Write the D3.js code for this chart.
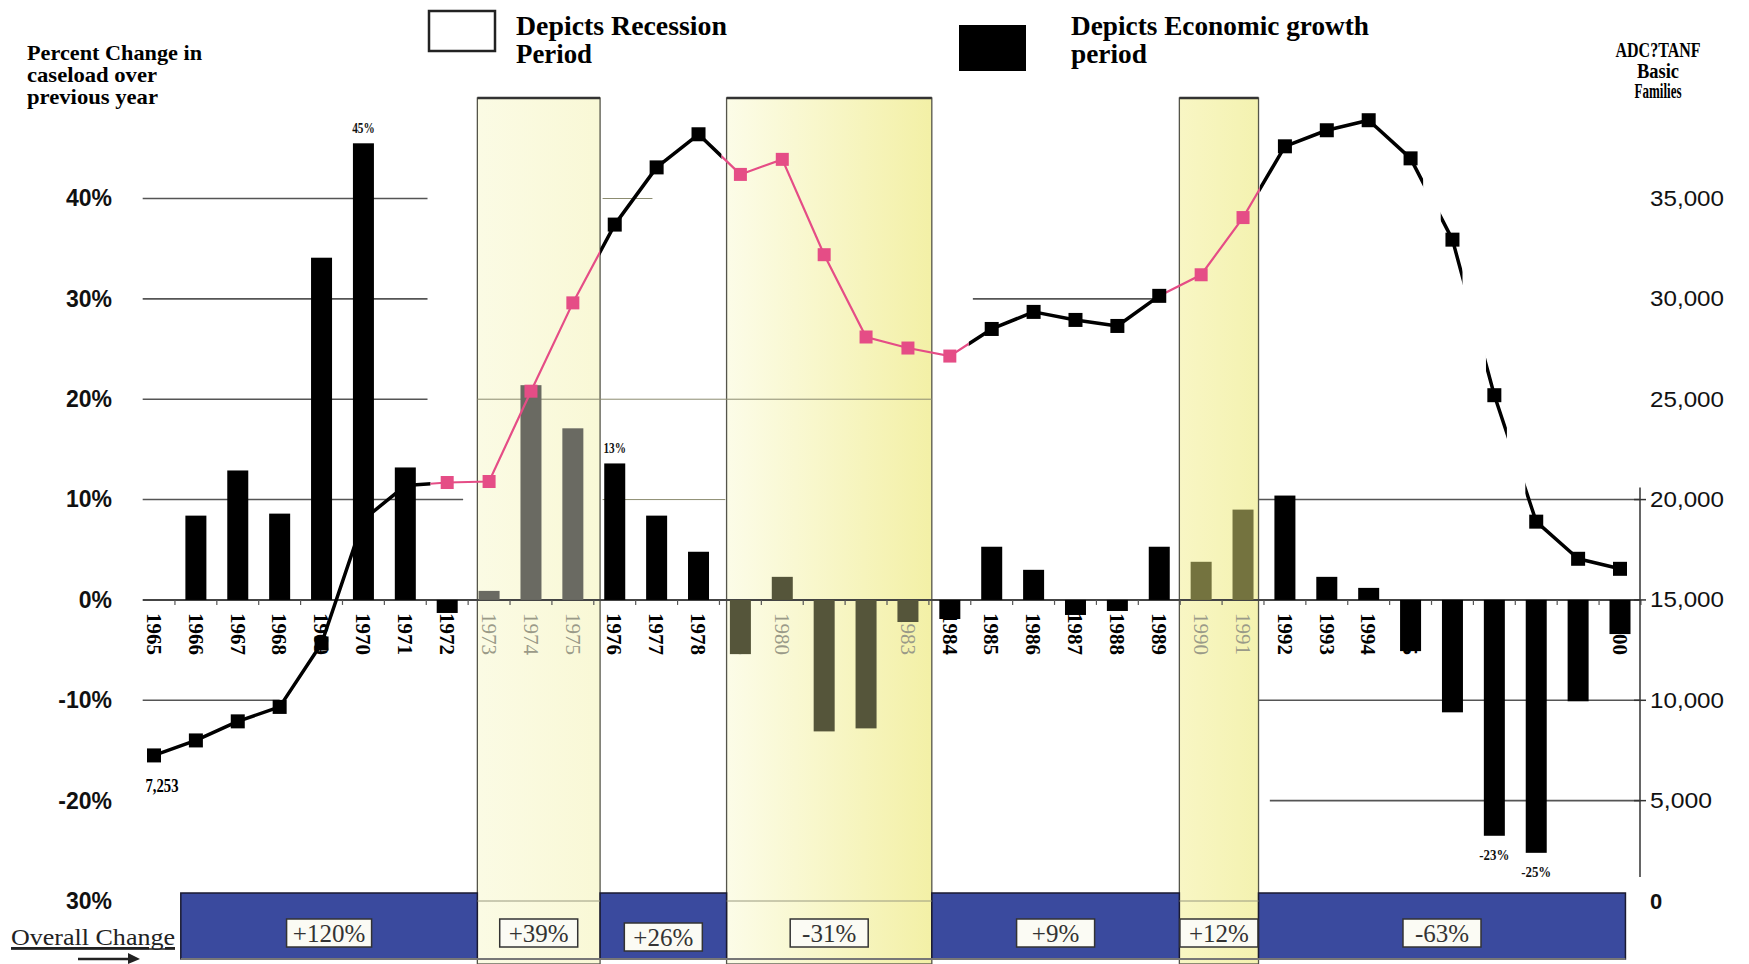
<!DOCTYPE html>
<html><head><meta charset="utf-8">
<script src="https://cdn.jsdelivr.net/npm/d3@7"></script>
<style>body{margin:0;background:#fff} svg{display:block}</style>
</head><body><svg id="c" width="1749" height="964"></svg>
<script>
// ---------------- DATA ----------------
const years = [1965,1966,1967,1968,1969,1970,1971,1972,1973,1974,1975,1976,1977,1978,1979,1980,1981,1982,1983,1984,1985,1986,1987,1988,1989,1990,1991,1992,1993,1994,1995,1996,1997,1998,1999,2000];
const pctChange = [null,8.4,12.9,8.6,34.1,45.5,13.2,-1.3,0.9,21.4,17.1,13.6,8.4,4.8,-5.4,2.3,-13.1,-12.8,-2.2,-1.9,5.3,3.0,-1.5,-1.1,5.3,3.8,9.0,10.4,2.3,1.2,-5.1,-11.2,-23.5,-25.2,-10.1,-3.4];
const caseload = [7253,8000,8950,9670,12830,19000,20700,20850,20900,25400,29800,33700,36550,38200,36200,36950,32200,28100,27550,27150,28500,29350,28950,28650,30150,31200,34050,37600,38400,38900,37000,32950,25200,18900,17050,16550];
const recessionYears = [1973,1974,1975,1979,1980,1981,1982,1983,1990,1991];
const pinkMarkerYears = [1972,1973,1974,1975,1979,1980,1981,1982,1983,1984,1990,1991];
const periodStart = [1965.64,1972.72,1975.65,1978.67,1983.57,1989.48,1991.37];
const periodEnd   = [1972.72,1975.65,1978.67,1983.57,1989.48,1991.37,2000.13];
const periodType  = ['growth','recession','growth','recession','growth','recession','growth'];
const periodChange = ['+120%','+39%','+26%','-31%','+9%','+12%','-63%'];
const pctTicks = [-30,-20,-10,0,10,20,30,40];
const caseTicks = [0,5000,10000,15000,20000,25000,30000,35000];
const barLabelYears = [1970,1976,1997,1998];
const barLabelText = ['45%','13%','-23%','-25%'];
// line colour ranges (in years)
const pinkRanges = [[1971.6,1975.65],[1978.55,1984.45],[1989.15,1991.4]];
const blackRanges = [[1964,1971.6],[1975.65,1978.55],[1984.45,1989.15],[1991.4,1995.3],[1995.72,1996.24],[1996.8,1997.3],[1997.74,2001]];
// gridline segments [level, fromYear, toYear]
const gridLevel = [40,40,30,30,20,20,10,10,10,-10,-10,-20];
const gridFrom  = [1964.73,1975.71,1964.73,1984.55,1964.73,1972.72,1964.73,1975.71,1991.37,1964.73,1991.37,1991.64];
const gridTo    = [1971.53,1976.9,1971.53,1989.03,1971.53,1983.57,1972.38,1978.64,2000.48,1968.0,2000.48,2000.48];

// ---------------- SETUP ----------------
const svg = d3.select('#c');
const W = 1749, H = 964;
const x = d3.scaleLinear().domain([1965,2000]).range([154,1620]);
const yP = d3.scaleLinear().domain([-30,40]).range([901,198.5]);
const yC = d3.scaleLinear().domain([0,35000]).range([901,198.5]);
const SERIF = "'Liberation Serif','Times New Roman',serif";
const SANS = "'Liberation Sans',Arial,sans-serif";
const recSet = new Set(recessionYears);
const pinkSet = new Set(pinkMarkerYears);

svg.append('rect').attr('width',W).attr('height',H).attr('fill','#fff');
const defs = svg.append('defs');

// recession gradients
const gradStops = [['#fbfbe4','#f9f8d6'],['#fcfce8','#f3f0a6'],['#f8f6c4','#f4f2b0']];
let ri = 0;
periodType.forEach((t,i)=>{
  if(t!=='recession') return;
  const g = defs.append('linearGradient').attr('id','rg'+i).attr('x1','0').attr('x2','1').attr('y1','0').attr('y2','0');
  g.append('stop').attr('offset','0').attr('stop-color',gradStops[ri][0]);
  g.append('stop').attr('offset','1').attr('stop-color',gradStops[ri][1]);
  ri++;
});

// ---------------- SHADED RECESSION AREAS ----------------
periodType.forEach((t,i)=>{
  if(t!=='recession') return;
  svg.append('rect')
    .attr('x',x(periodStart[i])).attr('y',98)
    .attr('width',x(periodEnd[i])-x(periodStart[i])).attr('height',H-98)
    .attr('fill','url(#rg'+i+')').attr('stroke','#55554a').attr('stroke-width',1.3);
  svg.append('line').attr('x1',x(periodStart[i])).attr('x2',x(periodEnd[i]))
    .attr('y1',98).attr('y2',98).attr('stroke','#333').attr('stroke-width',2.5);
});

// ---------------- BLUE OVERALL-CHANGE BANDS ----------------
periodType.forEach((t,i)=>{
  if(t!=='growth') return;
  svg.append('rect')
    .attr('x',x(periodStart[i])).attr('y',893)
    .attr('width',x(periodEnd[i])-x(periodStart[i])).attr('height',H-893-5)
    .attr('fill','#3a4a9e').attr('stroke','#1a1a30').attr('stroke-width',1.5);
});
svg.append('line').attr('x1',x(periodStart[0])).attr('x2',x(periodEnd[6]))
  .attr('y1',959).attr('y2',959).attr('stroke','#777').attr('stroke-width',2);
// faint -30% line inside recession periods
periodType.forEach((t,i)=>{
  if(t!=='recession') return;
  svg.append('line').attr('x1',x(periodStart[i])).attr('x2',x(periodEnd[i]))
    .attr('y1',yP(-30)).attr('y2',yP(-30)).attr('stroke','#9a9a80').attr('stroke-width',1);
});

// ---------------- GRIDLINES ----------------
gridLevel.forEach((lv,i)=>{
  const inRec = gridFrom[i]>1972 && gridTo[i]<1984;
  svg.append('line')
    .attr('x1',x(gridFrom[i])).attr('x2',x(gridTo[i]))
    .attr('y1',yP(lv)).attr('y2',yP(lv))
    .attr('stroke', inRec ? '#8c8c70' : '#555').attr('stroke-width', inRec?1:1.6);
});

// zero axis
svg.append('line').attr('x1',x(1964.73)).attr('x2',x(2000.48))
  .attr('y1',yP(0)).attr('y2',yP(0)).attr('stroke','#444').attr('stroke-width',2);
years.forEach(yr=>{
  svg.append('line').attr('x1',x(yr+0.5)).attr('x2',x(yr+0.5))
    .attr('y1',yP(0)).attr('y2',yP(0)+5).attr('stroke','#555').attr('stroke-width',1.2);
});

// right axis line
svg.append('line').attr('x1',1640).attr('x2',1640).attr('y1',yC(20600)).attr('y2',yC(1200))
  .attr('stroke','#333').attr('stroke-width',1.5);
[5000,10000,15000,20000].forEach(v=>{
  svg.append('line').attr('x1',1634).attr('x2',1646).attr('y1',yC(v)).attr('y2',yC(v))
    .attr('stroke','#333').attr('stroke-width',1.5);
});

// ---------------- YEAR LABELS ----------------
years.forEach(yr=>{
  const rec = recSet.has(yr);
  svg.append('text')
    .attr('transform',`translate(${x(yr)},613) rotate(90)`)
    .attr('dy','0.33em')
    .attr('font-family',SERIF).attr('font-size',22)
    .attr('font-weight', rec?'normal':'bold')
    .attr('fill', rec?'#9a9a88':'#000')
    .attr('textLength',42).attr('lengthAdjust','spacingAndGlyphs')
    .text(String(yr));
});

// ---------------- BARS ----------------
const barW = 21;
const recBarColor = y => (y<1977 ? '#6a6a62' : (y<1985 ? '#55553a' : '#74733f'));
years.forEach((yr,i)=>{
  const v = pctChange[i];
  if(v===null) return;
  const rec = recSet.has(yr);
  svg.append('rect')
    .attr('x',x(yr)-barW/2).attr('width',barW)
    .attr('y',yP(Math.max(v,0))).attr('height',Math.abs(yP(v)-yP(0)))
    .attr('fill', rec ? recBarColor(yr) : '#000');
});

// ---------------- CASELOAD LINE ----------------
function addClip(id, ranges){
  const cp = defs.append('clipPath').attr('id',id);
  ranges.forEach(r=>cp.append('rect').attr('x',x(r[0])).attr('y',0).attr('width',x(r[1])-x(r[0])).attr('height',H));
}
addClip('clipBlack',blackRanges);
addClip('clipPink',pinkRanges);
const lineGen = d3.line().x((d,i)=>x(years[i])).y(d=>yC(d));
svg.append('path').datum(caseload).attr('d',lineGen)
  .attr('fill','none').attr('stroke','#000').attr('stroke-width',3.5).attr('stroke-linejoin','round')
  .attr('clip-path','url(#clipBlack)');
svg.append('path').datum(caseload).attr('d',lineGen)
  .attr('fill','none').attr('stroke','#e54d86').attr('stroke-width',2.2)
  .attr('clip-path','url(#clipPink)');
years.forEach((yr,i)=>{
  const pink = pinkSet.has(yr);
  const s = pink ? 13 : 14;
  svg.append('rect').attr('x',x(yr)-s/2).attr('y',yC(caseload[i])-s/2)
    .attr('width',s).attr('height',s).attr('fill', pink ? '#e54d86' : '#000');
});

// ---------------- BAR LABELS ----------------
barLabelYears.forEach((yr,k)=>{
  const v = pctChange[years.indexOf(yr)];
  const yy = v>=0 ? yP(v)-10 : yP(v)+24;
  svg.append('text').attr('x',x(yr)).attr('y',yy).attr('text-anchor','middle')
    .attr('font-family',SERIF).attr('font-weight','bold').attr('font-size',15)
    .attr('textLength', barLabelText[k].length*7.5).attr('lengthAdjust','spacingAndGlyphs')
    .attr('fill','#111').text(barLabelText[k]);
});
svg.append('text').attr('x',x(1965)+8).attr('y',yC(caseload[0])+37).attr('text-anchor','middle')
  .attr('font-family',SERIF).attr('font-weight','bold').attr('font-size',18)
  .attr('textLength',33).attr('lengthAdjust','spacingAndGlyphs')
  .text(d3.format(',')(caseload[0]));

// ---------------- AXES ----------------
const leftAxis = d3.axisLeft(yP).tickValues(pctTicks)
  .tickFormat(v => (v===-30 ? '30%' : v+'%')).tickSize(0).tickPadding(0);
const la = svg.append('g').attr('transform','translate(112,0)').call(leftAxis);
la.select('.domain').remove();
la.selectAll('text').attr('font-family',SANS).attr('font-weight','bold').attr('font-size',23).attr('fill','#111');

const rightAxis = d3.axisRight(yC).tickValues(caseTicks)
  .tickFormat(v => v===0 ? '0' : d3.format(',')(v)).tickSize(0).tickPadding(0);
const ra = svg.append('g').attr('transform','translate(1650,0)').call(rightAxis);
ra.select('.domain').remove();
ra.selectAll('text').attr('font-family',SANS).attr('font-size',22).attr('fill','#111')
  .attr('font-weight', v => v===0 ? 'bold' : 'normal')
  .attr('textLength', v => v===0 ? null : (v<10000 ? 62 : 74)).attr('lengthAdjust','spacingAndGlyphs');

// ---------------- PERIOD CHANGE BOXES ----------------
periodChange.forEach((t,i)=>{
  const cx = (x(periodStart[i])+x(periodEnd[i]))/2;
  const bw = t.length>=5 ? 85 : 78;
  const by = (i===2) ? 923 : 919;
  svg.append('rect').attr('x',cx-bw/2).attr('y',by).attr('width',bw).attr('height',28)
    .attr('fill','#fbfbf4').attr('stroke','#333').attr('stroke-width',1.5);
  svg.append('text').attr('x',cx).attr('y',by+23).attr('text-anchor','middle')
    .attr('font-family',SERIF).attr('font-size',25).attr('fill','#333').text(t);
});

// ---------------- TEXTS ----------------
const leftTitle = ['Percent Change in','caseload over','previous year'];
const leftTitleW = [175,130,131];
leftTitle.forEach((t,i)=>{
  svg.append('text').attr('x',27).attr('y',60+i*22)
    .attr('font-family',SERIF).attr('font-weight','bold').attr('font-size',21)
    .attr('textLength',leftTitleW[i]).attr('lengthAdjust','spacingAndGlyphs').text(t);
});
const rightTitle = ['ADC?TANF','Basic','Families'];
const rightTitleW = [85,42,47];
rightTitle.forEach((t,i)=>{
  svg.append('text').attr('x',1658).attr('y',57+i*20.5).attr('text-anchor','middle')
    .attr('font-family',SERIF).attr('font-weight','bold').attr('font-size',20)
    .attr('textLength',rightTitleW[i]).attr('lengthAdjust','spacingAndGlyphs').text(t);
});

// legend
svg.append('rect').attr('x',429).attr('y',11).attr('width',66).attr('height',40)
  .attr('fill','#fff').attr('stroke','#222').attr('stroke-width',2.5);
svg.append('rect').attr('x',959).attr('y',25).attr('width',67).attr('height',46).attr('fill','#000');
const legTexts = [['Depicts Recession',516,35,211],['Period',516,63,76],['Depicts Economic growth',1071,35,298],['period',1071,63,76]];
legTexts.forEach(d=>{
  svg.append('text').attr('x',d[1]).attr('y',d[2])
    .attr('font-family',SERIF).attr('font-weight','bold').attr('font-size',27)
    .attr('textLength',d[3]).attr('lengthAdjust','spacingAndGlyphs').text(d[0]);
});

// Overall change
svg.append('text').attr('x',11).attr('y',945)
  .attr('font-family',SERIF).attr('font-size',24).attr('fill','#222')
  .attr('textLength',164).attr('lengthAdjust','spacingAndGlyphs')
  .attr('text-decoration','underline').text('Overall Change');
svg.append('line').attr('x1',11).attr('x2',175).attr('y1',949).attr('y2',949).attr('stroke','#222').attr('stroke-width',1.5);
svg.append('line').attr('x1',78).attr('x2',134).attr('y1',959).attr('y2',959).attr('stroke','#222').attr('stroke-width',2.5);
svg.append('path').attr('d','M128,953 L140,959 L128,964 Z').attr('fill','#222');
</script></body></html>
